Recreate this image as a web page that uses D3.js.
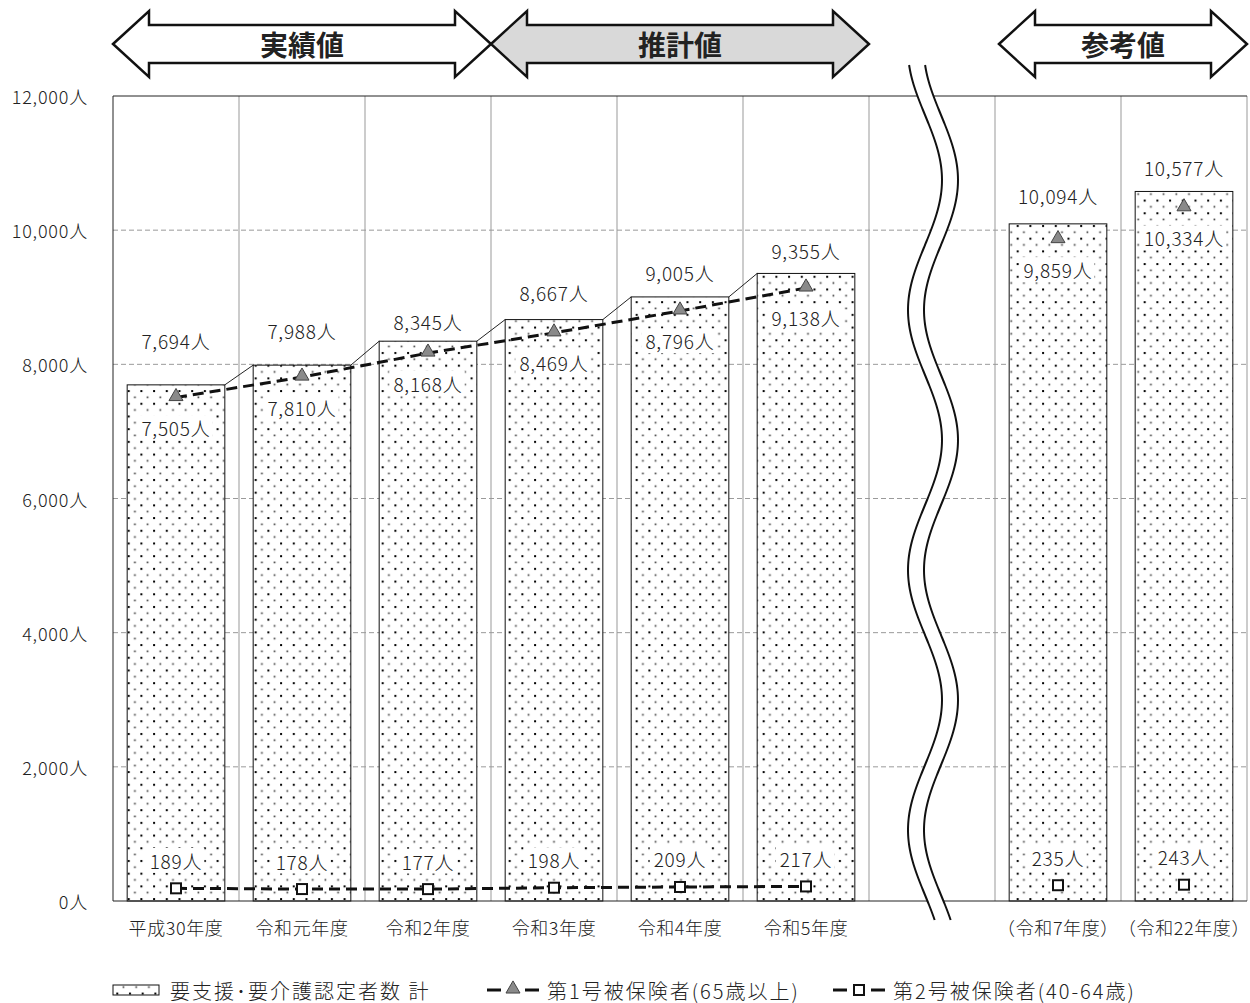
<!DOCTYPE html>
<html>
<head>
<meta charset="utf-8">
<script src="https://cdn.jsdelivr.net/npm/d3@7"></script>
<style>
    body { margin: 0; background: #fff; }
    text { font-family: "Noto Sans CJK JP", "Noto Sans", sans-serif; fill: #222; font-weight: 300; }
</style>
</head>
<body>
<div id="chart"></div>
<script>
// categories (index 6 is the empty slot used for the axis break)
var categories = ["平成30年度", "令和元年度", "令和2年度", "令和3年度", "令和4年度", "令和5年度", "", "（令和7年度）", "（令和22年度）"];
var totalCount = [7694, 7988, 8345, 8667, 9005, 9355, null, 10094, 10577];
var insured1 = [7505, 7810, 8168, 8469, 8796, 9138, null, 9859, 10334];
var insured2 = [189, 178, 177, 198, 209, 217, null, 235, 243];
var yTicks = [0, 2000, 4000, 6000, 8000, 10000, 12000];

// the three period arrows on top, in category slots
var phaseLabels = ["実績値", "推計値", "参考値"];
var phaseFrom = [0, 3, 7];
var phaseTo = [3, 6, 9];
var phaseShaded = [false, true, false];

var legendLabels = ["要支援･要介護認定者数 計", "第1号被保険者(65歳以上)", "第2号被保険者(40-64歳)"];

var breakIndex = 6;
var lineEnd = 5; // the dashed lines only connect the first six years

(function() {
    var W = 1250, H = 1003;
    var margin = {top: 96, right: 3, bottom: 102, left: 113};
    var width = W - margin.left - margin.right,
        height = H - margin.top - margin.bottom;

    // gap between bar top and its total label (hand placed in the original)
    var totalLabelGap = [44, 35, 20, 27, 24, 23, 0, 28, 24];

    var fmt = function(v) { return d3.format(",")(v) + "人"; };

    var svg = d3.select("#chart")
        .append("svg")
            .attr("width", W)
            .attr("height", H)
            .attr("xmlns", "http://www.w3.org/2000/svg");

    var defs = svg.append("defs");
    var pat = defs.append("pattern")
        .attr("id", "dots")
        .attr("patternUnits", "userSpaceOnUse")
        .attr("width", 12.7)
        .attr("height", 12.7);
    pat.append("rect").attr("width", 12.7).attr("height", 12.7).attr("fill", "#fff");
    pat.append("rect").attr("x", 2).attr("y", 2).attr("width", 2).attr("height", 2).attr("fill", "#000");
    pat.append("rect").attr("x", 8.35).attr("y", 8.35).attr("width", 1.7).attr("height", 1.7).attr("fill", "#444");

    var g = svg.append("g")
        .attr("transform", "translate(" + margin.left + "," + margin.top + ")");

    var x = d3.scaleBand()
        .domain(d3.range(categories.length))
        .range([0, width])
        .padding(0);
    var barW = x.bandwidth() * 0.775;
    var y = d3.scaleLinear().domain([0, 12000]).range([height, 0]);

    var cx = function(i) { return x(i) + x.bandwidth() / 2; };

    // horizontal grid
    g.append("g")
        .selectAll("line")
        .data(yTicks.filter(function(t) { return t > 0 && t < 12000; }))
        .enter()
        .append("line")
            .attr("x1", 0)
            .attr("x2", width)
            .attr("y1", function(d) { return y(d); })
            .attr("y2", function(d) { return y(d); })
            .attr("stroke", "#9a9a9a")
            .attr("stroke-width", 1)
            .attr("stroke-dasharray", "5,3");

    // vertical category grid
    g.append("g")
        .selectAll("line")
        .data(d3.range(1, categories.length + 1))
        .enter()
        .append("line")
            .attr("x1", function(i) { return i < categories.length ? x(i) : width; })
            .attr("x2", function(i) { return i < categories.length ? x(i) : width; })
            .attr("y1", 0)
            .attr("y2", height)
            .attr("stroke", "#999")
            .attr("stroke-width", 1);

    var idx = d3.range(categories.length).filter(function(i) { return totalCount[i] != null; });

    // bars
    g.append("g")
        .selectAll("rect")
        .data(idx)
        .enter()
        .append("rect")
            .attr("x", function(i) { return cx(i) - barW / 2; })
            .attr("y", function(i) { return y(totalCount[i]); })
            .attr("width", barW)
            .attr("height", function(i) { return height - y(totalCount[i]); })
            .attr("fill", "url(#dots)")
            .attr("stroke", "#111")
            .attr("stroke-width", 1);

    // series lines between neighbouring bars
    g.append("g")
        .selectAll("line")
        .data(d3.range(0, lineEnd))
        .enter()
        .append("line")
            .attr("x1", function(i) { return cx(i) + barW / 2; })
            .attr("y1", function(i) { return y(totalCount[i]); })
            .attr("x2", function(i) { return cx(i + 1) - barW / 2; })
            .attr("y2", function(i) { return y(totalCount[i + 1]); })
            .attr("stroke", "#222")
            .attr("stroke-width", 1);

    // frame
    g.append("line").attr("x1", 0).attr("x2", width).attr("y1", 0).attr("y2", 0).attr("stroke", "#222");
    g.append("line").attr("x1", 0).attr("x2", 0).attr("y1", 0).attr("y2", height).attr("stroke", "#222");
    g.append("line").attr("x1", 0).attr("x2", width).attr("y1", height).attr("y2", height).attr("stroke", "#222");

    // axis break: two wavy lines with white in between
    var wx = cx(breakIndex) - 7;
    var wavePts = d3.range(65 - margin.top, 923 - margin.top, 3).map(function(yy) {
        return [wx + 17 * Math.cos(2 * Math.PI * (yy + margin.top - 180) / 260), yy];
    });
    var waveR = wavePts.map(function(p) { return [p[0] + 16, p[1]]; });
    g.append("path")
        .attr("d", d3.line()(wavePts.concat(waveR.slice().reverse())) + "Z")
        .attr("fill", "#fff");
    [wavePts, waveR].forEach(function(pts) {
        g.append("path")
            .attr("d", d3.line().curve(d3.curveBasis)(pts))
            .attr("fill", "none")
            .attr("stroke", "#111")
            .attr("stroke-width", 2);
    });

    // label boxes go under the lines so the dots stay clear around the text
    var labelBoxes = g.append("g");

    // dashed lines for 第1号 and 第2号
    var lineGen = function(arr) {
        return d3.line()
            .x(function(i) { return cx(i); })
            .y(function(i) { return y(arr[i]); })(d3.range(0, lineEnd + 1));
    };
    [insured1, insured2].forEach(function(arr) {
        g.append("path")
            .attr("d", lineGen(arr))
            .attr("fill", "none")
            .attr("stroke", "#111")
            .attr("stroke-width", 3)
            .attr("stroke-dasharray", "11,6");
    });

    var triangle = d3.symbol().type(d3.symbolTriangle).size(85);

    function drawTriangle(sel, px, py) {
        sel.append("path")
            .attr("d", triangle())
            .attr("transform", "translate(" + px + "," + (py - 1) + ")")
            .attr("fill", "#8a8a8a")
            .attr("stroke", "#444")
            .attr("stroke-width", 1);
    }
    function drawSquare(sel, px, py) {
        sel.append("rect")
            .attr("x", px - 5)
            .attr("y", py - 5)
            .attr("width", 10)
            .attr("height", 10)
            .attr("fill", "#fff")
            .attr("stroke", "#111")
            .attr("stroke-width", 2);
    }

    idx.forEach(function(i) {
        drawTriangle(g, cx(i), y(insured1[i]));
        drawSquare(g, cx(i), y(insured2[i]));
    });

    // data labels
    var labels = g.append("g").style("font-size", "19px").style("letter-spacing", "0.8px");
    idx.forEach(function(i) {
        labels.append("text")
            .attr("x", cx(i))
            .attr("y", y(totalCount[i]) - totalLabelGap[i])
            .attr("text-anchor", "middle")
            .attr("dominant-baseline", "central")
            .text(fmt(totalCount[i]));
        labels.append("text")
            .classed("boxed", true)
            .attr("x", cx(i))
            .attr("y", y(insured1[i]) + 30)
            .attr("text-anchor", "middle")
            .attr("dominant-baseline", "central")
            .text(fmt(insured1[i]));
        labels.append("text")
            .classed("boxed", true)
            .attr("x", cx(i))
            .attr("y", y(insured2[i]) - 28)
            .attr("text-anchor", "middle")
            .attr("dominant-baseline", "central")
            .text(fmt(insured2[i]));
    });

    labels.selectAll("text.boxed").each(function() {
        var bb = this.getBBox();
        labelBoxes.append("rect")
            .attr("x", bb.x - 4)
            .attr("y", bb.y + 1)
            .attr("width", bb.width + 6)
            .attr("height", bb.height - 2)
            .attr("fill", "#fff");
    });

    // y tick labels
    g.append("g")
        .selectAll("text")
        .data(yTicks)
        .enter()
        .append("text")
            .attr("x", -25)
            .attr("y", function(d) { return y(d); })
            .attr("text-anchor", "end")
            .attr("dominant-baseline", "central")
            .style("font-size", "18px")
            .style("letter-spacing", "0.8px")
            .text(fmt);

    // category labels
    g.append("g")
        .selectAll("text")
        .data(d3.range(categories.length))
        .enter()
        .append("text")
            .attr("x", cx)
            .attr("y", height + 26)
            .attr("text-anchor", "middle")
            .attr("dominant-baseline", "central")
            .style("font-size", "18px")
            .style("letter-spacing", "0.6px")
            .text(function(i) { return categories[i]; });

    // period arrows on top
    phaseLabels.forEach(function(lab, k) {
        var x0 = margin.left + x(phaseFrom[k]) + (phaseFrom[k] === 7 ? 4 : 0);
        var x1 = margin.left + (phaseTo[k] < categories.length ? x(phaseTo[k]) : width);
        var head = 36, yc = 44;
        var pts = [[x0, yc], [x0 + head, 11], [x0 + head, 25], [x1 - head, 25], [x1 - head, 11], [x1, yc],
                   [x1 - head, 77], [x1 - head, 63], [x0 + head, 63], [x0 + head, 77]];
        svg.append("path")
            .attr("d", d3.line()(pts) + "Z")
            .attr("fill", phaseShaded[k] ? "#d9d9d9" : "#fff")
            .attr("stroke", "#111")
            .attr("stroke-width", 2.5)
            .attr("stroke-linejoin", "miter");
        svg.append("text")
            .attr("x", (x0 + x1) / 2)
            .attr("y", yc)
            .attr("text-anchor", "middle")
            .attr("dominant-baseline", "central")
            .style("font-size", "28px")
            .style("font-weight", "bold")
            .text(lab);
    });

    // legend
    var legend = svg.append("g").style("font-size", "20px").style("letter-spacing", "2px");
    var ly = 990;
    legend.append("rect")
        .attr("x", 113).attr("y", ly - 5).attr("width", 46).attr("height", 10)
        .attr("fill", "url(#dots)").attr("stroke", "#111");
    legend.append("text").attr("x", 170).attr("y", ly).attr("dominant-baseline", "central").text(legendLabels[0]);

    [[487, drawTriangle], [833, drawSquare]].forEach(function(item, k) {
        var lx = item[0];
        legend.append("line").attr("x1", lx).attr("x2", lx + 14).attr("y1", ly).attr("y2", ly)
            .attr("stroke", "#111").attr("stroke-width", 3);
        legend.append("line").attr("x1", lx + 38).attr("x2", lx + 52).attr("y1", ly).attr("y2", ly)
            .attr("stroke", "#111").attr("stroke-width", 3);
        item[1](legend, lx + 26, ly);
        legend.append("text").attr("x", lx + 60).attr("y", ly).attr("dominant-baseline", "central").text(legendLabels[k + 1]);
    });
})();
</script>
</body>
</html>
